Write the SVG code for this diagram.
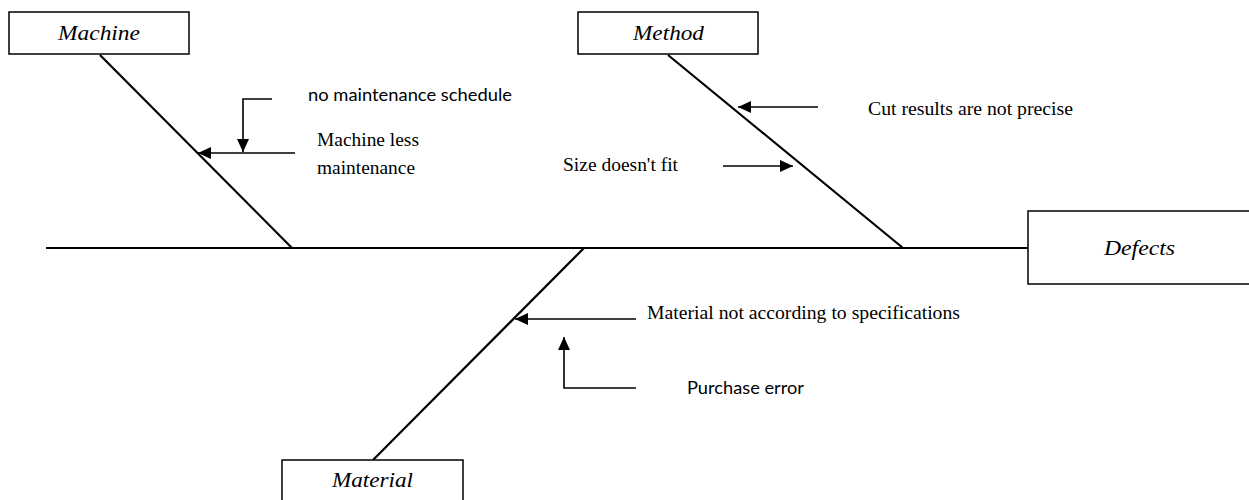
<svg xmlns="http://www.w3.org/2000/svg" width="1249" height="500" viewBox="0 0 1249 500">
<style>
.box{fill:#fff;stroke:#000;stroke-width:1.5}
.bone{stroke:#000;stroke-width:2.2;fill:none}
.arr{stroke:#000;stroke-width:1.6;fill:none}
.lbl{font-family:"Liberation Serif","Times New Roman",serif;font-style:italic;font-size:21px;fill:#000}
.ser{font-family:"Liberation Serif","Times New Roman",serif;font-size:19px;fill:#000}
.san{font-family:Lato,"Liberation Sans",sans-serif;font-size:18px;fill:#000}
</style>
<defs>
<marker id="ah" markerUnits="userSpaceOnUse" markerWidth="14" markerHeight="12" refX="13" refY="6" orient="auto">
<path d="M0,0 L13,6 L0,12 Z" fill="#000"/>
</marker>
</defs>
<g id="connectors">
<line class="bone" x1="46" y1="248" x2="1028" y2="248"/>
<line class="bone" x1="100" y1="55" x2="292" y2="248"/>
<line class="bone" x1="668" y1="55" x2="903" y2="248"/>
<line class="bone" x1="584" y1="248" x2="373" y2="460"/>
<line class="arr" x1="295" y1="153" x2="198" y2="153" marker-end="url(#ah)"/>
<polyline class="arr" points="272,99 243,99 243,152" marker-end="url(#ah)"/>
<line class="arr" x1="818" y1="107" x2="738" y2="107" marker-end="url(#ah)"/>
<line class="arr" x1="723" y1="166" x2="793" y2="166" marker-end="url(#ah)"/>
<line class="arr" x1="636" y1="319" x2="515" y2="319" marker-end="url(#ah)"/>
<polyline class="arr" points="636,388 564,388 564,337" marker-end="url(#ah)"/>
</g>
<g id="machine">
<rect class="box" x="9" y="12" width="180" height="42"/>
<text class="lbl" x="58" y="40" textLength="82" lengthAdjust="spacingAndGlyphs">Machine</text>
</g>
<g id="method">
<rect class="box" x="578" y="12" width="180" height="42"/>
<text class="lbl" x="633" y="40" textLength="71" lengthAdjust="spacingAndGlyphs">Method</text>
</g>
<g id="defects">
<rect class="box" x="1028" y="211" width="224" height="73"/>
<text class="lbl" x="1104" y="255" textLength="71" lengthAdjust="spacingAndGlyphs">Defects</text>
</g>
<g id="material">
<rect class="box" x="282" y="460" width="181" height="44"/>
<text class="lbl" x="332" y="487" textLength="81" lengthAdjust="spacingAndGlyphs">Material</text>
</g>
<g id="causes">
<text class="san" x="308" y="101" textLength="204" lengthAdjust="spacingAndGlyphs">no maintenance schedule</text>
<text class="ser" x="317" y="146" textLength="102" lengthAdjust="spacingAndGlyphs">Machine less</text>
<text class="ser" x="317" y="174" textLength="98" lengthAdjust="spacingAndGlyphs">maintenance</text>
<text class="ser" x="868" y="115" textLength="205" lengthAdjust="spacingAndGlyphs">Cut results are not precise</text>
<text class="ser" x="563" y="171" textLength="115" lengthAdjust="spacingAndGlyphs">Size doesn't fit</text>
<text class="ser" x="647" y="319" textLength="313" lengthAdjust="spacingAndGlyphs">Material not according to specifications</text>
<text class="san" x="687" y="394" textLength="117" lengthAdjust="spacingAndGlyphs">Purchase error</text>
</g>
</svg>
